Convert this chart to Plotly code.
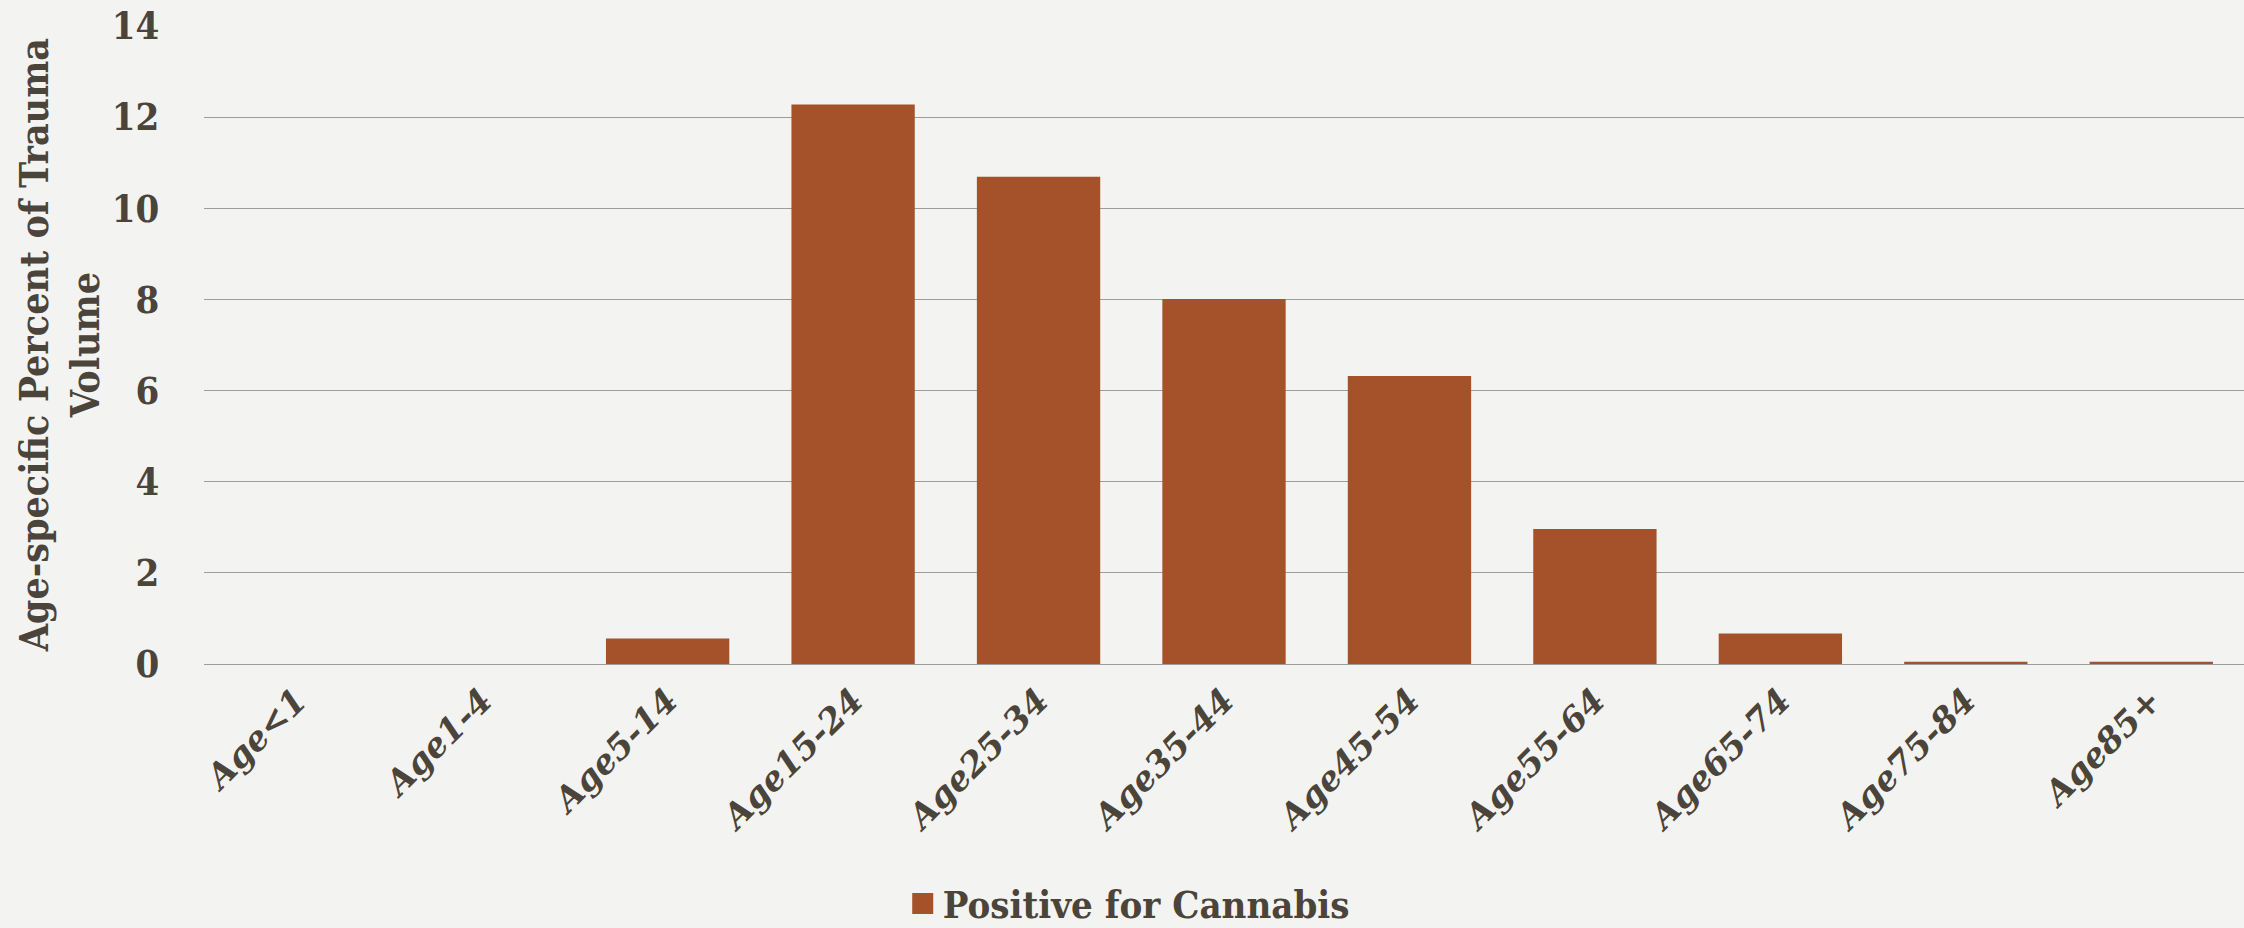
import plotly.graph_objects as go

# Age groups and share of trauma volume positive for cannabis (%)
age_groups = ["Age<1", "Age1-4", "Age5-14", "Age15-24", "Age25-34", "Age35-44",
              "Age45-54", "Age55-64", "Age65-74", "Age75-84", "Age85+"]
pct_cannabis = [0.0, 0.0, 0.56, 12.28, 10.69, 8.01, 6.32, 2.96, 0.67, 0.05, 0.05]
y_ticks = [0, 2, 4, 6, 8, 10, 12, 14]
series_name = "Positive for Cannabis"

BAR = "#A5522A"
INK = "#4b443a"
BG = "#f3f3f1"
GRID = "#9c9c9c"
SERIF_C = "DejaVu Serif Condensed, DejaVu Serif, serif"
SERIF = "DejaVu Serif, serif"

fig = go.Figure()
fig.add_trace(go.Bar(
    x=age_groups, y=pct_cannabis, name=series_name,
    marker=dict(color=BAR, line=dict(width=0)),
    showlegend=False, legendgroup="c",
))
# legend entry with a larger square swatch
fig.add_trace(go.Scatter(
    x=[None], y=[None], mode="markers", name=series_name, legendgroup="c",
    marker=dict(symbol="square", size=16, color=BAR, line=dict(color=BAR, width=5)),
    showlegend=True,
))

fig.update_layout(
    width=2244, height=928,
    margin=dict(l=204, r=0, t=26, b=264),
    paper_bgcolor=BG, plot_bgcolor=BG,
    bargap=0.335,
    xaxis=dict(
        tickangle=-45,
        tickfont=dict(family=SERIF, size=34, color=INK, weight="bold", style="italic"),
        ticks="outside", ticklen=2, tickcolor="rgba(0,0,0,0)",
        showgrid=False, showline=False, zeroline=False,
    ),
    yaxis=dict(
        range=[0, 14], tickvals=y_ticks,
        tickfont=dict(family=SERIF_C, size=38, color=INK, weight="bold"),
        ticks="outside", ticklen=36, tickcolor="rgba(0,0,0,0)",
        showgrid=True, gridcolor=GRID, gridwidth=1.2,
        zeroline=True, zerolinecolor=GRID, zerolinewidth=1.2,
        showline=False,
    ),
    legend=dict(
        orientation="h", xref="container", yref="container",
        x=0.503, xanchor="center", y=0.026, yanchor="middle",
        font=dict(family=SERIF_C, size=38, color=INK, weight="bold"),
        bgcolor="rgba(0,0,0,0)",
    ),
    annotations=[dict(
        text="Age-specific Percent of Trauma<br>Volume",
        xref="paper", yref="paper", x=-0.0709, y=0.5,
        xanchor="center", yanchor="middle", textangle=-90, showarrow=False,
        font=dict(family=SERIF_C, size=39, color=INK, weight="bold"),
    )],
)

fig.write_html("out.html")
